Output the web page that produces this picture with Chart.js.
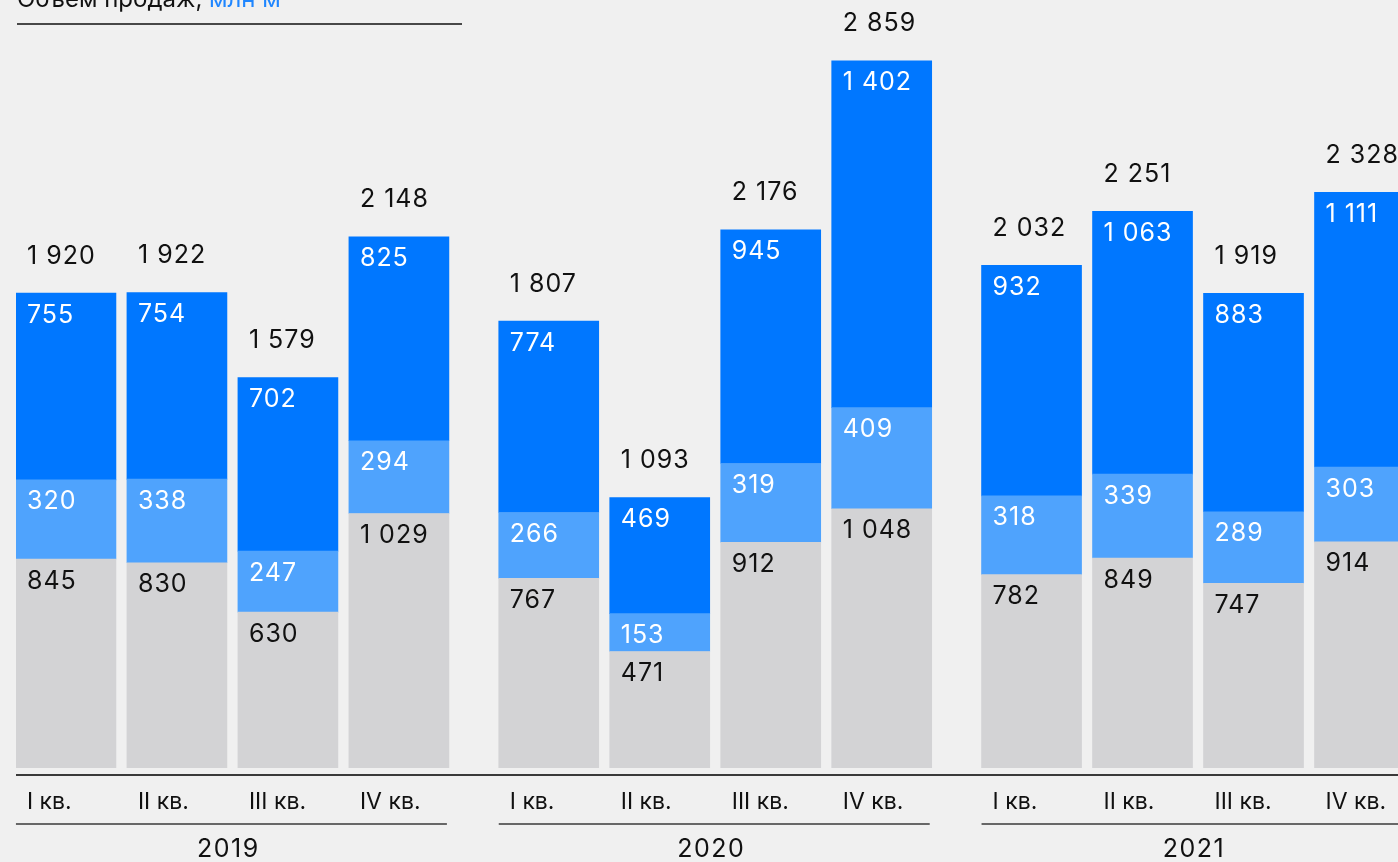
<!DOCTYPE html>
<html>
<head>
<meta charset="utf-8">
<script src="https://cdn.jsdelivr.net/npm/chart.js@4.4.1/dist/chart.umd.min.js"></script>
<style>
  html, body { margin: 0; padding: 0; background: #f0f0f0; overflow: hidden; }
  canvas { display: block; }
</style>
</head>
<body>
<canvas id="salesChart" width="1440" height="862"></canvas>
<script>
// Sales volume, by quarter
const years = ['2019', '2020', '2021'];
const quarters = ['I кв.', 'II кв.', 'III кв.', 'IV кв.'];
const baseValues = [845, 830, 630, 1029, 767, 471, 912, 1048, 782, 849, 747, 914];
const midValues = [320, 338, 247, 294, 266, 153, 319, 409, 318, 339, 289, 303];
const topValues = [755, 754, 702, 825, 774, 469, 945, 1402, 932, 1063, 883, 1111];
const totals = [1920, 1922, 1579, 2148, 1807, 1093, 2176, 2859, 2032, 2251, 1919, 2328];

const groupGap = 0.35; // extra space between years, in bar slots
const positions = baseValues.map((v, i) => (i % 4) + Math.floor(i / 4) * (4 + groupGap));

function fmt(n) {
    return String(n).replace(/\B(?=(\d{3})+(?!\d))/g, '\u00a0');
}

function toPoints(values) {
    return values.map((v, i) => ({ x: positions[i], y: v }));
}

const FONT = '"Inter", "Noto Sans", sans-serif';

const labelsPlugin = {
    id: 'labels',
    afterDatasetsDraw(chart) {
        const ctx = chart.ctx;
        ctx.save();
        ctx.font = '25px ' + FONT;
        ctx.letterSpacing = '1px';
        ctx.textBaseline = 'middle';
        ctx.textAlign = 'left';

        // values inside segments
        chart.data.datasets.forEach((ds, di) => {
            const meta = chart.getDatasetMeta(di);
            meta.data.forEach((bar, i) => {
                const left = bar.x - bar.width / 2;
                ctx.fillStyle = ds.labelColor;
                ctx.fillText(fmt(ds.data[i].y), left + 11, bar.y + 22);
            });
        });

        // totals above bars
        const topMeta = chart.getDatasetMeta(2);
        topMeta.data.forEach((bar, i) => {
            const left = bar.x - bar.width / 2;
            ctx.fillStyle = '#111';
            ctx.fillText(fmt(totals[i]), left + 11, bar.y - 37);
        });

        // axis line
        ctx.strokeStyle = '#3a3a3a';
        ctx.lineWidth = 2;
        ctx.beginPath();
        ctx.moveTo(16, 775);
        ctx.lineTo(chart.width, 775);
        ctx.stroke();

        // quarter labels
        ctx.font = '23px ' + FONT;
        ctx.letterSpacing = '0px';
        ctx.fillStyle = '#111';
        topMeta.data.forEach((bar, i) => {
            const left = bar.x - bar.width / 2;
            ctx.fillText(quarters[i % 4], left + 11, 802);
        });

        // year labels with underline
        ctx.font = '25px ' + FONT;
        ctx.letterSpacing = '1.5px';
        years.forEach((year, g) => {
            const first = topMeta.data[g * 4];
            const last = topMeta.data[g * 4 + 3];
            const x0 = first.x - first.width / 2;
            const x1 = last.x + last.width / 2 - 2;
            ctx.strokeStyle = '#3a3a3a';
            ctx.lineWidth = 1.5;
            ctx.beginPath();
            ctx.moveTo(x0, 824);
            ctx.lineTo(x1, 824);
            ctx.stroke();
            ctx.textAlign = 'center';
            ctx.fillText(year, (x0 + x1) / 2 - 3, 849);
            ctx.textAlign = 'left';
        });

        // title
        ctx.font = '24px ' + FONT;
        ctx.letterSpacing = '0px';
        ctx.textBaseline = 'alphabetic';
        ctx.fillStyle = '#111';
        const part1 = 'Объем продаж, ';
        ctx.fillText(part1, 17, 7);
        ctx.fillStyle = '#1f86ff';
        ctx.fillText('млн м²', 17 + ctx.measureText(part1).width, 7);
        ctx.strokeStyle = '#111';
        ctx.lineWidth = 1.5;
        ctx.beginPath();
        ctx.moveTo(17, 24);
        ctx.lineTo(462, 24);
        ctx.stroke();

        ctx.restore();
    }
};

const ctx = document.getElementById('salesChart').getContext('2d');
const salesChart = new Chart(ctx, {
    type: 'bar',
    data: {
        datasets: [
            { label: 'base', data: toPoints(baseValues), backgroundColor: '#d3d3d5', labelColor: '#111' },
            { label: 'mid', data: toPoints(midValues), backgroundColor: '#4fa3fd', labelColor: '#ffffff' },
            { label: 'top', data: toPoints(topValues), backgroundColor: '#0077ff', labelColor: '#ffffff' }
        ]
    },
    options: {
        responsive: false,
        animation: false,
        barThickness: 100,
        layout: { padding: { left: 16, right: 20, top: 26, bottom: 94 } },
        plugins: {
            legend: { display: false },
            tooltip: { enabled: false }
        },
        scales: {
            x: { type: 'linear', stacked: true, display: false, min: -0.45, max: 12.2, offset: false },
            y: { stacked: true, display: false, min: 0, max: 3000 }
        }
    },
    plugins: [labelsPlugin]
});
</script>
</body>
</html>
